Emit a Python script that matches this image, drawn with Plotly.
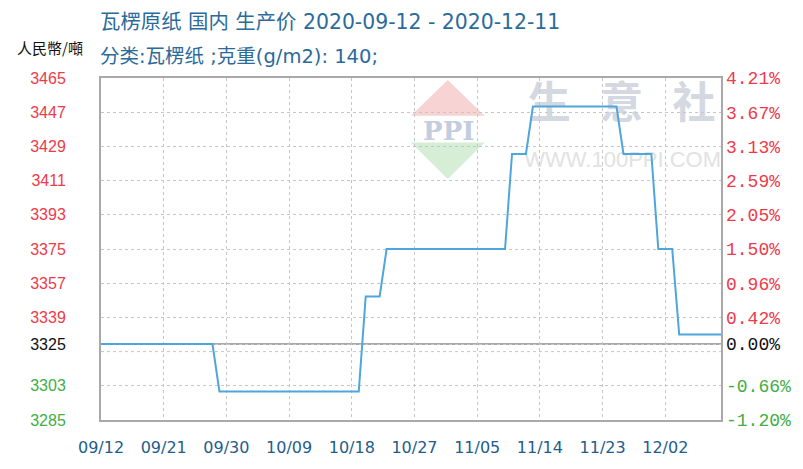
import plotly.graph_objects as go

# ---------------- data ----------------
dates = ["2020-09-12", "2020-09-28", "2020-09-29", "2020-10-19", "2020-10-20",
         "2020-10-22", "2020-10-23", "2020-11-09", "2020-11-10", "2020-11-12",
         "2020-11-13", "2020-11-25", "2020-11-26", "2020-11-30", "2020-12-01",
         "2020-12-03", "2020-12-04", "2020-12-10"]
prices = [3325, 3325, 3300, 3300, 3350,
          3350, 3375, 3375, 3425, 3425,
          3450, 3450, 3425, 3425, 3375,
          3375, 3330, 3330]

x_tick_dates = ["2020-09-12", "2020-09-21", "2020-09-30", "2020-10-09", "2020-10-18",
                "2020-10-27", "2020-11-05", "2020-11-14", "2020-11-23", "2020-12-02"]
x_tick_labels = ["09/12", "09/21", "09/30", "10/09", "10/18",
                 "10/27", "11/05", "11/14", "11/23", "12/02"]

y_tick_vals = [3465, 3447, 3429, 3411, 3393, 3375, 3357, 3339, 3325, 3303, 3285]
y_tick_labels = ["3465", "3447", "3429", "3411", "3393", "3375", "3357", "3339", "3325", "3303", "3285"]
pct_tick_labels = ["4.21%", "3.67%", "3.13%", "2.59%", "2.05%", "1.50%", "0.96%", "0.42%", "0.00%", "-0.66%", "-1.20%"]
extra_grid_val = 3321
base_price = 3325

title_line1 = "瓦楞原纸 国内 生产价 2020-09-12 - 2020-12-11"
title_line2 = "分类:瓦楞纸 ;克重(g/m2): 140;"
unit_label = "人民幣/噸"

# ---------------- styling ----------------
RED = "#ee3a4a"
GREEN = "#3fae45"
BLACK = "#111111"


def colorize(labels, vals):
    out = []
    for lab, v in zip(labels, vals):
        if v > base_price:
            c = RED
        elif v == base_price:
            c = BLACK
        else:
            c = GREEN
        out.append(f'<span style="color:{c}">{lab}</span>')
    return out


W, H = 803, 469
L, R, T, B = 101, 725, 78, 423


def px(x):
    return (x - L) / (R - L)


def py(y):
    return (B - y) / (B - T)


fig = go.Figure()
fig.add_trace(go.Scatter(x=dates, y=prices, mode="lines",
                         line=dict(color="#4ea6dc", width=2),
                         hoverinfo="x+y", showlegend=False))
fig.add_trace(go.Scatter(x=[dates[0]], y=[prices[0]], mode="lines", yaxis="y2",
                         opacity=0, hoverinfo="skip", showlegend=False))

shapes = []
# watermark logo (diamond)
shapes.append(dict(type="path", xref="paper", yref="paper", layer="below",
                   path=f"M {px(450)},{py(80)} L {px(487)},{py(116)} L {px(413)},{py(116)} Z",
                   fillcolor="#f7d3d3", line=dict(width=0)))
shapes.append(dict(type="path", xref="paper", yref="paper", layer="below",
                   path=f"M {px(413)},{py(143)} L {px(487)},{py(143)} L {px(450)},{py(180)} Z",
                   fillcolor="#d6edd6", line=dict(width=0)))
shapes.append(dict(type="rect", xref="paper", yref="paper", layer="below",
                   x0=px(414), x1=px(488), y0=py(143), y1=py(116),
                   fillcolor="rgba(0,0,0,0)", line=dict(width=0),
                   label=dict(text="<b>PPI</b>", font=dict(family="DejaVu Serif", size=26, color="#c3cde0"))))
shapes.append(dict(type="rect", xref="paper", yref="paper", layer="below",
                   x0=px(527), x1=px(723), y0=py(130), y1=py(82),
                   fillcolor="rgba(0,0,0,0)", line=dict(width=0),
                   label=dict(text="<b>生   意   社</b>", font=dict(family="Noto Sans CJK SC", size=43, color="#d4d8e0"))))
shapes.append(dict(type="rect", xref="paper", yref="paper", layer="below",
                   x0=px(530), x1=px(722), y0=py(170), y1=py(146),
                   fillcolor="rgba(0,0,0,0)", line=dict(width=0),
                   label=dict(text="WWW.100PPI.COM", font=dict(family="Liberation Sans", size=22, color="#e2e2e2"))))
# extra dotted grid line (evenly spaced grid position)
shapes.append(dict(type="line", xref="paper", yref="y", x0=0, x1=1, y0=extra_grid_val, y1=extra_grid_val,
                   layer="below", line=dict(color="#c6c6c6", width=1, dash="dot")))
# base price line
shapes.append(dict(type="line", xref="paper", yref="y", x0=0, x1=1, y0=base_price, y1=base_price,
                   layer="below", line=dict(color="#a8a8a8", width=2)))

annotations = [
    dict(text=title_line1, x=px(98), y=py(22), xref="paper", yref="paper",
         xanchor="left", yanchor="middle", showarrow=False,
         font=dict(family="DejaVu Sans, Noto Sans CJK SC", size=20.4, color="#2b6b9b")),
    dict(text=title_line2, x=px(98), y=py(56), xref="paper", yref="paper",
         xanchor="left", yanchor="middle", showarrow=False,
         font=dict(family="DejaVu Sans, Noto Sans CJK SC", size=19.5, color="#2b6b9b")),
    dict(text=unit_label, x=px(14), y=py(47), xref="paper", yref="paper",
         xanchor="left", yanchor="middle", showarrow=False,
         font=dict(family="Noto Sans CJK TC", size=15, color="#111111")),
]

fig.update_layout(
    width=W, height=H,
    margin=dict(l=L, r=W - R, t=T, b=H - B, pad=0),
    paper_bgcolor="white", plot_bgcolor="white",
    showlegend=False,
    shapes=shapes,
    annotations=annotations,
    xaxis=dict(
        type="date", range=["2020-09-12", "2020-12-10"],
        tickvals=x_tick_dates, ticktext=x_tick_labels,
        showgrid=True, gridcolor="#c6c6c6", griddash="dot", gridwidth=1,
        showline=True, linecolor="#a9a9a9", linewidth=2, mirror=True,
        ticks="", ticklabelstandoff=12,
        tickfont=dict(family="DejaVu Sans", size=16, color="#1f5d8c"),
        zeroline=False, fixedrange=True,
    ),
    yaxis=dict(
        range=[3285, 3465],
        tickvals=y_tick_vals, ticktext=colorize(y_tick_labels, y_tick_vals),
        showgrid=True, gridcolor="#c6c6c6", griddash="dot", gridwidth=1,
        showline=True, linecolor="#a9a9a9", linewidth=2, mirror=True,
        ticks="", ticklabelstandoff=30,
        tickfont=dict(family="Liberation Sans", size=16),
        zeroline=False, fixedrange=True,
    ),
    yaxis2=dict(
        range=[3285, 3465], overlaying="y", side="right",
        tickvals=y_tick_vals, ticktext=colorize(pct_tick_labels, y_tick_vals),
        showgrid=False, showline=False, ticks="", ticklabelstandoff=4,
        tickfont=dict(family="Liberation Mono", size=18),
        zeroline=False, fixedrange=True,
    ),
)

fig.write_html("out.html", config={"displayModeBar": False},
               post_script="document.body.style.margin='0px';document.body.style.overflow='hidden';")
